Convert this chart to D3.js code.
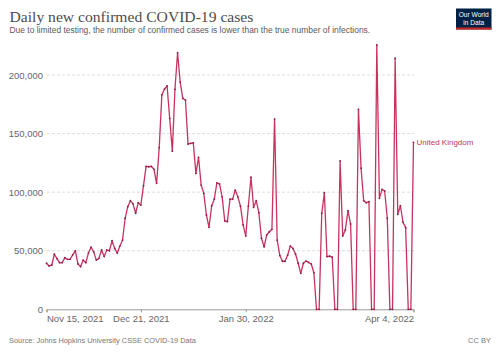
<!DOCTYPE html>
<html><head><meta charset="utf-8">
<script src="https://cdn.jsdelivr.net/npm/d3@7"></script>
<style>html,body{margin:0;padding:0;background:#fff;}svg{display:block;}</style>
</head><body><svg id="chart" width="500" height="353"></svg>
<script>
const title = "Daily new confirmed COVID-19 cases";
const subtitle = "Due to limited testing, the number of confirmed cases is lower than the true number of infections.";
const sourceText = "Source: Johns Hopkins University CSSE COVID-19 Data";
const licenseText = "CC BY";
const seriesName = "United Kingdom";
const startDate = "2021-11-15";
// daily new confirmed cases, one value per day from Nov 15, 2021 to Apr 4, 2022
const cases = [
 39300,37000,37800,47000,43200,39800,39800,44000,42700,42700,
 46500,49800,38700,36400,42000,39800,48000,53000,49000,42000,
 43500,50600,45000,50600,50000,58500,52000,48000,54000,59000,
 77700,87600,92700,90000,82000,91000,89000,105500,122000,121700,
 122000,119500,107500,138000,183000,188000,190600,163000,135000,187800,
 219000,194000,180000,178600,141000,141700,142000,116000,129700,106000,
 99000,80500,70000,88400,94000,108000,107000,96000,75400,74800,
 94000,94000,101800,96000,88000,72000,62600,88000,112700,87000,
 92700,82500,60600,53400,63400,66200,68300,162400,59000,46000,
 41000,41000,46300,54000,52000,47200,39300,30700,39300,41200,
 40000,38700,31200,0,0,82000,99500,45000,45300,44500,
 0,0,126600,62600,67700,84200,72800,0,0,170700,
 120400,92700,91000,91900,0,0,225600,94700,102400,101000,
 77700,0,0,214300,81000,88400,74300,69700,0,0,
 142500
];
const yTicks = [0, 50000, 100000, 150000, 200000];
const xTickDates = ["2021-11-15", "2021-12-21", "2022-01-30", "2022-04-04"];
const xTickLabels = ["Nov 15, 2021", "Dec 21, 2021", "Jan 30, 2022", "Apr 4, 2022"];

const parse = d3.utcParse("%Y-%m-%d");
const t0 = parse(startDate);
const data = cases.map((v, i) => ({date: d3.utcDay.offset(t0, i), value: v}));

const svg = d3.select("#chart");
const sans = "'Liberation Sans', Arial, sans-serif";

function fit(sel, w) {
  const base = parseFloat(sel.attr("font-size"));
  const len = sel.node().getComputedTextLength();
  sel.attr("font-size", (base * w / len).toFixed(2));
}

// header
fit(svg.append("text").attr("x", 9.5).attr("y", 21.5).attr("font-family", "'Liberation Serif', Georgia, serif")
  .attr("font-size", 17).attr("fill", "#4d4d4d").text(title), 244);
fit(svg.append("text").attr("x", 9.5).attr("y", 32.5).attr("font-family", sans)
  .attr("font-size", 9).attr("fill", "#5b5b5b").text(subtitle), 361);

// logo
const logo = svg.append("g");
logo.append("rect").attr("x", 456).attr("y", 8.5).attr("width", 35.5).attr("height", 21).attr("fill", "#002147");
logo.append("rect").attr("x", 456).attr("y", 27.5).attr("width", 35.5).attr("height", 2).attr("fill", "#ce261e");
logo.append("text").attr("x", 473.7).attr("y", 17).attr("text-anchor", "middle").attr("font-family", sans)
  .attr("font-size", 6.6).attr("fill", "#fff").text("Our World");
logo.append("text").attr("x", 473.7).attr("y", 24.5).attr("text-anchor", "middle").attr("font-family", sans)
  .attr("font-size", 6.6).attr("fill", "#fff").text("in Data");

// scales
const x = d3.scaleUtc().domain([t0, data[data.length - 1].date]).range([46.5, 413.5]);
const y = d3.scaleLinear().domain([0, 200000]).range([309.3, 75]);

// grid
svg.append("g").selectAll("line").data(yTicks.filter(d => d > 0)).join("line")
  .attr("x1", 47).attr("x2", 414).attr("y1", d => y(d)).attr("y2", d => y(d))
  .attr("stroke", "#dddddd").attr("stroke-width", 1).attr("stroke-dasharray", "3,2");

// y axis labels
const yAxis = svg.append("g").attr("transform", "translate(47,0)")
  .call(d3.axisLeft(y).tickValues(yTicks).tickFormat(d3.format(",")).tickSize(0).tickPadding(4));
yAxis.select(".domain").remove();
yAxis.selectAll("text").attr("font-family", sans).attr("font-size", 9.5).attr("fill", "#666");

// x axis
const xAxis = svg.append("g").attr("transform", "translate(0,309.3)")
  .call(d3.axisBottom(x).tickValues(xTickDates.map(parse)).tickFormat((d, i) => xTickLabels[i]).tickSizeOuter(0).tickSize(3).tickPadding(3));
xAxis.select(".domain").attr("stroke", "#999");
xAxis.selectAll(".tick line").attr("stroke", "#999");
xAxis.selectAll("text").attr("font-family", sans).attr("font-size", 9.5).attr("fill", "#666");
xAxis.selectAll(".tick text").attr("text-anchor", (d, i) => i === 0 ? "start" : (i === xTickDates.length - 1 ? "end" : "middle"));

// line
const lineColor = "#c8325f";
svg.append("path").datum(data)
  .attr("d", d3.line().x(d => x(d.date)).y(d => y(d.value)))
  .attr("fill", "none").attr("stroke", lineColor).attr("stroke-width", 1.3).attr("stroke-linejoin", "round");
svg.append("g").selectAll("circle").data(data).join("circle")
  .attr("cx", d => x(d.date)).attr("cy", d => y(d.value)).attr("r", 0.9).attr("fill", "#8e1f45");

// series label
const last = data[data.length - 1];
svg.append("text").attr("x", x(last.date) + 3).attr("y", y(last.value) + 3)
  .attr("font-family", sans).attr("font-size", 8).attr("fill", lineColor).text(seriesName);

// footer
fit(svg.append("text").attr("x", 9).attr("y", 342.5).attr("font-family", sans)
  .attr("font-size", 7.5).attr("fill", "#777").text(sourceText), 187);
svg.append("text").attr("x", 491).attr("y", 342.5).attr("text-anchor", "end").attr("font-family", sans)
  .attr("font-size", 7.5).attr("fill", "#777").text(licenseText);
</script></body></html>
